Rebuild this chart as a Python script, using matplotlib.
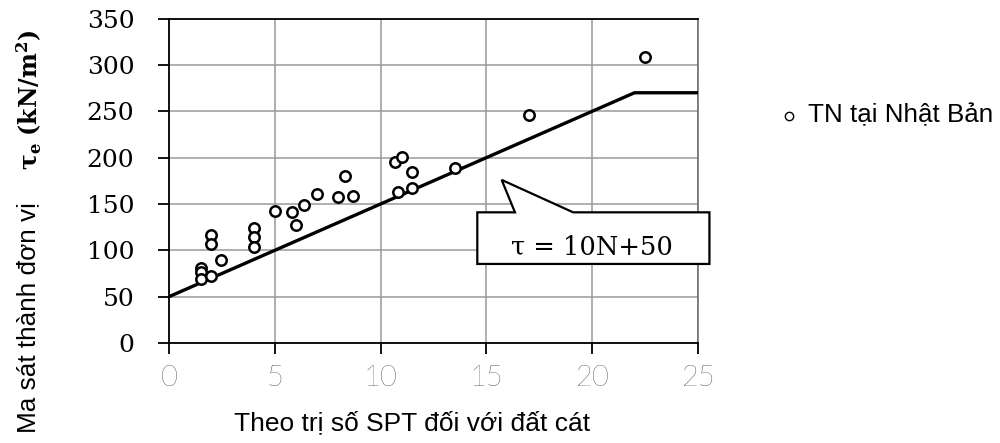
import numpy as np
import matplotlib
matplotlib.use("Agg")
import matplotlib.pyplot as plt
from matplotlib.patches import Polygon

# measured points (SPT N value vs unit skin friction)
spt_n = [1.5, 1.5, 1.5, 2.0, 2.0, 2.0, 2.45, 4.0, 4.0, 4.0, 5.0, 5.8, 6.0,
         6.4, 7.0, 8.0, 8.3, 8.7, 10.7, 11.0, 10.8, 11.5, 11.5, 13.5, 17.0, 22.5]
friction = [81, 77, 69, 72, 117, 107, 90, 124, 114, 104, 142, 141, 127,
            149, 161, 158, 180, 159, 195, 201, 163, 184, 167, 189, 246, 309]

# design line tau = 10N + 50, capped at 270
line_n = [0, 22, 25]
line_tau = [50, 270, 270]

x_ticks = [0, 5, 10, 15, 20, 25]
y_ticks = [0, 50, 100, 150, 200, 250, 300, 350]

plt.rcParams["mathtext.fontset"] = "dejavuserif"

fig = plt.figure(figsize=(10, 4.43), dpi=100)
ax = fig.add_axes([0.169, 0.2257, 0.529, 0.7323])

ax.set_xlim(0, 25)
ax.set_ylim(0, 350)
ax.set_xticks(x_ticks)
ax.set_yticks(y_ticks)
ax.grid(True, color="#9a9a9a", linewidth=1.1)
ax.set_axisbelow(True)

for s in ["left", "bottom", "top"]:
    ax.spines[s].set_color("black")
    ax.spines[s].set_linewidth(1.3)
ax.spines["right"].set_color("#666666")
ax.spines["right"].set_linewidth(1.1)

ax.tick_params(axis="both", direction="out", length=8, width=1.3, color="black")
ax.tick_params(axis="y", pad=17)
ax.tick_params(axis="x", pad=8)
for lab in ax.get_yticklabels():
    lab.set_fontfamily("DejaVu Serif")
    lab.set_fontsize(18)
for lab in ax.get_xticklabels():
    lab.set_fontfamily("Lato")
    lab.set_fontweight("light")
    lab.set_fontsize(21)
    lab.set_color("black")

ax.plot(line_n, line_tau, color="black", linewidth=2.4, zorder=3)
ax.plot(spt_n, friction, linestyle="none", marker="o", markersize=7.5,
        markerfacecolor="white", markeredgecolor="black", markeredgewidth=1.8,
        zorder=4)

# callout box with pointer
callout = Polygon([(14.57, 85.3), (25.54, 85.3), (25.54, 141), (19.1, 141),
                   (15.72, 176), (16.35, 141), (14.57, 141)],
                  closed=True, facecolor="white", edgecolor="black",
                  linewidth=1.6, clip_on=False, zorder=5)
ax.add_patch(callout)
ax.text(19.97, 104, "τ = 10N+50", fontfamily="DejaVu Serif", fontsize=18.5,
        ha="center", va="center", zorder=6)

# axis titles
fig.text(0.028, 1 - 318 / 443, "Ma sát thành đơn vị", rotation=90, ha="center",
         va="center", fontfamily="Liberation Sans", fontsize=18.8)
fig.text(0.029, 1 - 100 / 443, r"$\mathbf{\tau_e}$ $\mathbf{(kN/m^2)}$", rotation=90,
         ha="center", va="center", fontsize=17)
fig.text(0.4125, 1 - 423 / 443, "Theo trị số SPT đối với đất cát", ha="center",
         va="center", fontfamily="Liberation Sans", fontsize=19)

# legend
fig.lines.append(plt.Line2D([0.789], [1 - 116 / 443], marker="o",
                            markersize=6, markerfacecolor="white",
                            markeredgecolor="black", markeredgewidth=1.0,
                            linestyle="none", transform=fig.transFigure))
fig.text(0.808, 1 - 115 / 443, "TN tại Nhật Bản", ha="left", va="center",
         fontfamily="Liberation Sans", fontsize=18.7)

fig.savefig("out.png", dpi=100)
